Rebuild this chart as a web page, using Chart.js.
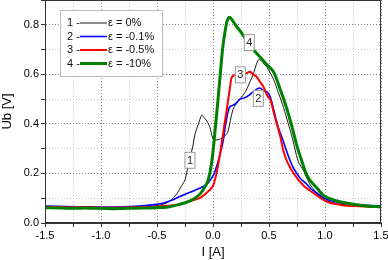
<!DOCTYPE html>
<html><head><meta charset="utf-8">
<script src="https://cdn.jsdelivr.net/npm/chart.js@4/dist/chart.umd.min.js"></script>
<style>html,body{margin:0;padding:0;background:#fff}#wrap{width:388px;height:260px}</style>
</head><body><div id="wrap"><canvas id="c" width="388" height="260"></canvas></div>
<script>
// Curve 1: ε = 0%
const x1 = [-1.5,-1.3,-1.1,-0.9,-0.7,-0.55,-0.45,-0.38,-0.32,-0.28,-0.25,-0.21,-0.18,-0.16,-0.13,-0.1,-0.08,-0.06,-0.03,0.0,0.03,0.06,0.09,0.13,0.18,0.24,0.29,0.33,0.36,0.39,0.41,0.44,0.48,0.54,0.58,0.62,0.66,0.71,0.76,0.81,0.86,0.91,0.97,1.05,1.15,1.3,1.5];
const y1 = [0.065,0.063,0.062,0.062,0.064,0.068,0.075,0.09,0.12,0.15,0.175,0.255,0.31,0.36,0.40,0.435,0.425,0.415,0.39,0.34,0.335,0.338,0.345,0.365,0.46,0.50,0.53,0.57,0.60,0.645,0.66,0.65,0.63,0.58,0.53,0.48,0.42,0.34,0.25,0.21,0.16,0.13,0.10,0.085,0.075,0.07,0.065];
// Curve 2: ε = -0.1%
const x2 = [-1.5,-1.3,-1.1,-0.9,-0.7,-0.55,-0.45,-0.35,-0.28,-0.2,-0.12,-0.06,0.0,0.04,0.07,0.09,0.11,0.13,0.15,0.18,0.21,0.24,0.28,0.32,0.36,0.39,0.42,0.45,0.48,0.51,0.54,0.58,0.62,0.65,0.69,0.72,0.78,0.83,0.87,0.93,0.99,1.1,1.25,1.5];
const y2 = [0.068,0.066,0.065,0.064,0.067,0.073,0.08,0.095,0.11,0.125,0.14,0.155,0.19,0.24,0.29,0.33,0.39,0.44,0.47,0.475,0.485,0.50,0.505,0.515,0.53,0.54,0.545,0.535,0.53,0.51,0.46,0.39,0.34,0.30,0.25,0.22,0.18,0.16,0.14,0.12,0.10,0.085,0.075,0.068];
// Curve 3: ε = -0.5%
const x3 = [-1.5,-1.3,-1.1,-0.9,-0.7,-0.5,-0.4,-0.3,-0.2,-0.12,-0.05,0.0,0.04,0.07,0.09,0.11,0.13,0.15,0.17,0.22,0.26,0.30,0.33,0.36,0.39,0.42,0.45,0.49,0.51,0.54,0.57,0.60,0.63,0.66,0.72,0.81,0.9,1.02,1.15,1.3,1.5];
const y3 = [0.066,0.064,0.063,0.062,0.064,0.066,0.07,0.075,0.09,0.10,0.125,0.15,0.22,0.30,0.36,0.42,0.48,0.54,0.59,0.60,0.60,0.605,0.61,0.60,0.59,0.57,0.55,0.51,0.50,0.45,0.40,0.35,0.29,0.25,0.20,0.15,0.12,0.085,0.072,0.068,0.065];
// Curve 4: ε = -10%
const x4 = [-1.5,-1.3,-1.1,-0.9,-0.7,-0.5,-0.4,-0.3,-0.2,-0.12,-0.08,-0.045,-0.01,0.02,0.045,0.065,0.085,0.11,0.13,0.15,0.17,0.2,0.25,0.31,0.36,0.42,0.48,0.54,0.6,0.66,0.71,0.75,0.8,0.83,0.87,0.93,0.99,1.1,1.2,1.35,1.5];
const y4 = [0.062,0.06,0.06,0.058,0.06,0.062,0.065,0.075,0.09,0.115,0.14,0.17,0.25,0.38,0.50,0.60,0.70,0.78,0.82,0.83,0.82,0.80,0.77,0.73,0.70,0.67,0.64,0.61,0.54,0.46,0.38,0.31,0.24,0.20,0.17,0.14,0.11,0.09,0.08,0.07,0.065];

const legendLabels = ['ε = 0%', 'ε = -0.1%', 'ε = -0.5%', 'ε = -10%'];
const curveNumbers = ['1','2','3','4'];
// label-box anchor positions (data coordinates)
const tagX = [-0.21, 0.40, 0.24, 0.32];
const tagY = [0.255, 0.505, 0.60, 0.73];

const colors = ['#1a1a1a','#0000ff','#ff0000','#008000'];
const widths = [1, 1.6, 2, 3];

const pts = (xs, ys) => xs.map((x, i) => ({x, y: ys[i]}));
const series = [pts(x1,y1), pts(x2,y2), pts(x3,y3), pts(x4,y4)];

const FONT = 'Liberation Sans, Arial, sans-serif';

const framePlugin = {
  id: 'frame',
  afterDraw(chart) {
    const {ctx, chartArea: a, scales} = chart;
    ctx.save();
    ctx.strokeStyle = '#333';
    ctx.lineWidth = 1;
    ctx.strokeRect(a.left + 0.5, a.top + 0.5, a.right - a.left - 1, a.bottom - a.top - 1);
    // curve number tags
    ctx.font = '11px ' + FONT;
    ctx.textAlign = 'center';
    ctx.textBaseline = 'middle';
    for (let i = 0; i < 4; i++) {
      const px = scales.x.getPixelForValue(tagX[i]);
      const py = scales.y.getPixelForValue(tagY[i]);
      ctx.fillStyle = '#fff';
      ctx.fillRect(px - 5, py - 8, 10, 16);
      ctx.strokeStyle = '#999';
      ctx.strokeRect(px - 5 + 0.5, py - 8 + 0.5, 10, 16);
      ctx.fillStyle = '#222';
      ctx.fillText(curveNumbers[i], px + 0.5, py + 1);
    }
    // legend
    const lx = 60, ly = 10, lw = 102, lh = 66;
    ctx.fillStyle = '#fff';
    ctx.fillRect(lx, ly, lw, lh);
    ctx.strokeStyle = '#bbb';
    ctx.strokeRect(lx + 0.5, ly + 0.5, lw, lh);
    ctx.textAlign = 'left';
    ctx.font = '11px ' + FONT;
    for (let i = 0; i < 4; i++) {
      const yy = ly + 13 + i * 13.5;
      ctx.fillStyle = '#111';
      ctx.fillText(curveNumbers[i] + ' -', lx + 7, yy);
      ctx.strokeStyle = colors[i];
      ctx.lineWidth = widths[i];
      ctx.beginPath();
      ctx.moveTo(lx + 20, yy);
      ctx.lineTo(lx + 47, yy);
      ctx.stroke();
      ctx.lineWidth = 1;
      ctx.fillStyle = '#111';
      ctx.fillText(legendLabels[i], lx + 48, yy);
    }
    ctx.restore();
  }
};

new Chart(document.getElementById('c'), {
  type: 'line',
  data: {
    datasets: series.map((d, i) => ({
      label: legendLabels[i],
      data: d,
      borderColor: colors[i],
      borderWidth: widths[i],
      pointRadius: 0,
      tension: 0.3,
      fill: false
    })).reverse()
  },
  options: {
    responsive: false,
    animation: false,
    layout: {padding: {top: 0, right: 7, left: 0, bottom: 0}},
    plugins: {legend: {display: false}, tooltip: {enabled: false}},
    scales: {
      x: {
        type: 'linear', min: -1.5, max: 1.5,
        afterBuildTicks(s) {
          const t = [];
          for (let k = -6; k <= 6; k++) t.push({value: k * 0.25});
          s.ticks = t;
        },
        afterFit(s) { s.height = 37; s.paddingLeft = 0; s.paddingRight = 0; },
        ticks: {
          autoSkip: false, maxRotation: 0, padding: 2,
          color: '#000', font: {family: FONT, size: 11},
          callback: v => (Math.abs(Math.round(v * 4)) % 2 === 0 ? v.toFixed(1) : '')
        },
        grid: {
          color: c => (c.tick && Math.abs(Math.round(c.tick.value * 4)) % 2 === 0 ? '#888' : '#c8c8c8'),
          tickColor: '#333', tickLength: 4, tickBorderDash: []
        },
        border: {display: true, color: '#333', dash: [1, 2]},
        title: {display: true, text: 'I [A]', color: '#000', font: {family: FONT, size: 13}, padding: {top: 0, bottom: 0}}
      },
      y: {
        type: 'linear', min: 0, max: 0.9,
        afterBuildTicks(s) {
          const t = [];
          for (let k = 0; k <= 9; k++) t.push({value: k / 10});
          s.ticks = t;
        },
        afterFit(s) { s.width = 45; s.paddingTop = 0; s.paddingBottom = 0; },
        ticks: {
          autoSkip: false, padding: 2,
          color: '#000', font: {family: FONT, size: 11},
          callback: v => (Math.round(v * 10) % 2 === 0 ? v.toFixed(1) : '')
        },
        grid: {
          color: c => (c.tick && Math.round(c.tick.value * 10) % 2 === 0 ? '#888' : '#c8c8c8'),
          tickColor: '#333', tickLength: 4, tickBorderDash: []
        },
        border: {display: true, color: '#333', dash: [1, 2]},
        title: {display: true, text: 'Ub [V]', color: '#000', font: {family: FONT, size: 13}, padding: {top: 0, bottom: 2}}
      }
    }
  },
  plugins: [framePlugin]
});
</script>
</body></html>
